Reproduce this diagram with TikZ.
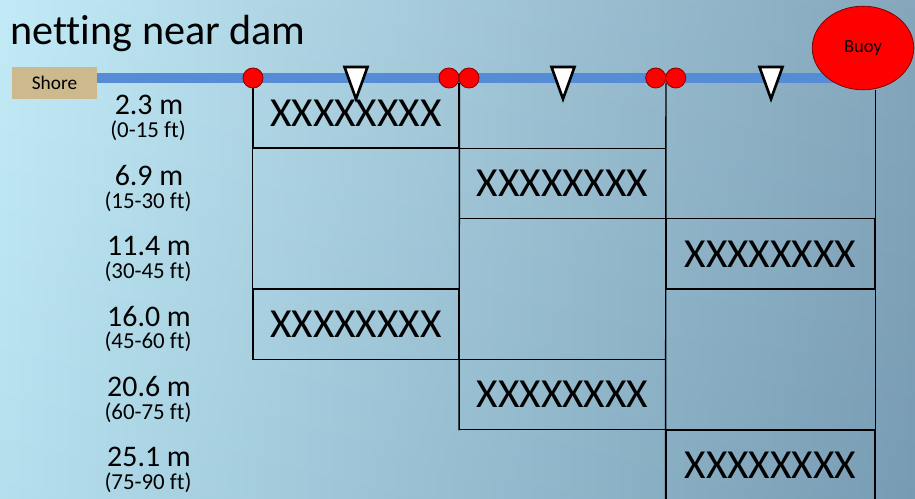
\documentclass[tikz,border=0pt]{standalone}
\usepackage{fontspec}
\setmainfont[Ligatures=NoCommon]{Carlito}
\usetikzlibrary{shapes.geometric,positioning,calc}
\definecolor{seaL}{RGB}{190,233,246}
\definecolor{seaR}{RGB}{124,160,183}
\definecolor{seaDeep}{RGB}{60,100,130}
\definecolor{lineblue}{RGB}{86,140,214}
\definecolor{shoretan}{RGB}{204,186,142}

\begin{document}
\begin{tikzpicture}[x=0.02cm,y=-0.02cm]
  \tikzset{
    net/.style={draw,line width=0.8pt,minimum width=117pt,minimum height=39.9pt,inner sep=0pt,font=\fontsize{23.5}{28}\selectfont},
    wide/.style={minimum width=118.6pt},
    rope/.style={line width=0.8pt},
    float/.style={circle,draw=red!55!black,fill=red,minimum size=11.4pt,inner sep=0pt,line width=0.5pt},
    marker/.style={draw=black,fill=white,line width=1.5pt,line join=miter},
    depthlabel/.style={font=\fontsize{17}{20}\selectfont,inner sep=0pt},
    ftrange/.style={font=\fontsize{13}{15}\selectfont,inner sep=0pt}
  }

  % frame and water
  \useasboundingbox (0,0) rectangle (915,499);
  \clip (0,0) rectangle (915,499);
  \shade[left color=seaL,right color=seaR] (0,0) rectangle (915,499);
  \shade[top color=white,bottom color=seaDeep,opacity=0.07] (0,0) rectangle (915,499);

  \node[anchor=base west,inner sep=0pt,font=\fontsize{24}{28}\selectfont] (title) at (10,45) {netting near dam};

  % depth labels
  \foreach \m/\ft [count=\i] in {2.3/0-15,6.9/15-30,11.4/30-45,16.0/45-60,20.6/60-75,25.1/75-90} {
    \node[depthlabel] (d\i) at (149,{105+70.4*(\i-1)}) {\m{} m};
    \node[ftrange] (r\i) at (148,{131+70.4*(\i-1)}) {(\ft{} ft)};
  }

  % net panels
  \node[net] (n1) at (356,113) {XXXXXXXX};
  \node[net] (n2) at (562.5,183.4) {XXXXXXXX};
  \node[net,wide] (n3) at (770.4,253.8) {XXXXXXXX};
  \node[net] (n4) at (356,324.2) {XXXXXXXX};
  \node[net] (n5) at (562.5,394.6) {XXXXXXXX};
  \node[net,wide] (n6) at (770.4,465) {XXXXXXXX};

  % head rope, shore and buoy
  \coordinate (f0) at (253,78);
  \coordinate (bc) at (863,48);
  \draw[rope] (n1.north west) -- (n4.south west);
  \draw[rope] (n1.north east) -- (n5.south west);
  \draw[rope] (n2.east |- n1.north) -- (n6.south west);
  \draw[line width=5.4pt,lineblue] (f0 -| 97,0) -- (f0 -| bc);
  \node[fill=shoretan,minimum width=48.2pt,minimum height=18.7pt,inner sep=0pt,font=\fontsize{11}{13}\selectfont] (shore) at (54.5,83) {Shore};
  \node[ellipse,draw=red!45!black,fill=red,minimum width=57.8pt,minimum height=47.6pt,inner sep=0pt,font=\fontsize{10.5}{12}\selectfont] (buoy) at (bc) {Buoy};
  \draw[rope] (n6.east |- buoy.south) -- (n6.south east);

  % floats
  \node[float] (f1) at (253,78) {};
  \node[float] (f2) at (449,78) {};
  \node[float] (f3) at (469,78) {};
  \node[float] (f4) at (655.7,78) {};
  \node[float] (f5) at (675.7,78) {};

  % markers
  \foreach \x in {356,563,771}
    \draw[marker] (\x-11.5,67) -- (\x+11.5,67) -- (\x,99) -- cycle;
\end{tikzpicture}
\end{document}
